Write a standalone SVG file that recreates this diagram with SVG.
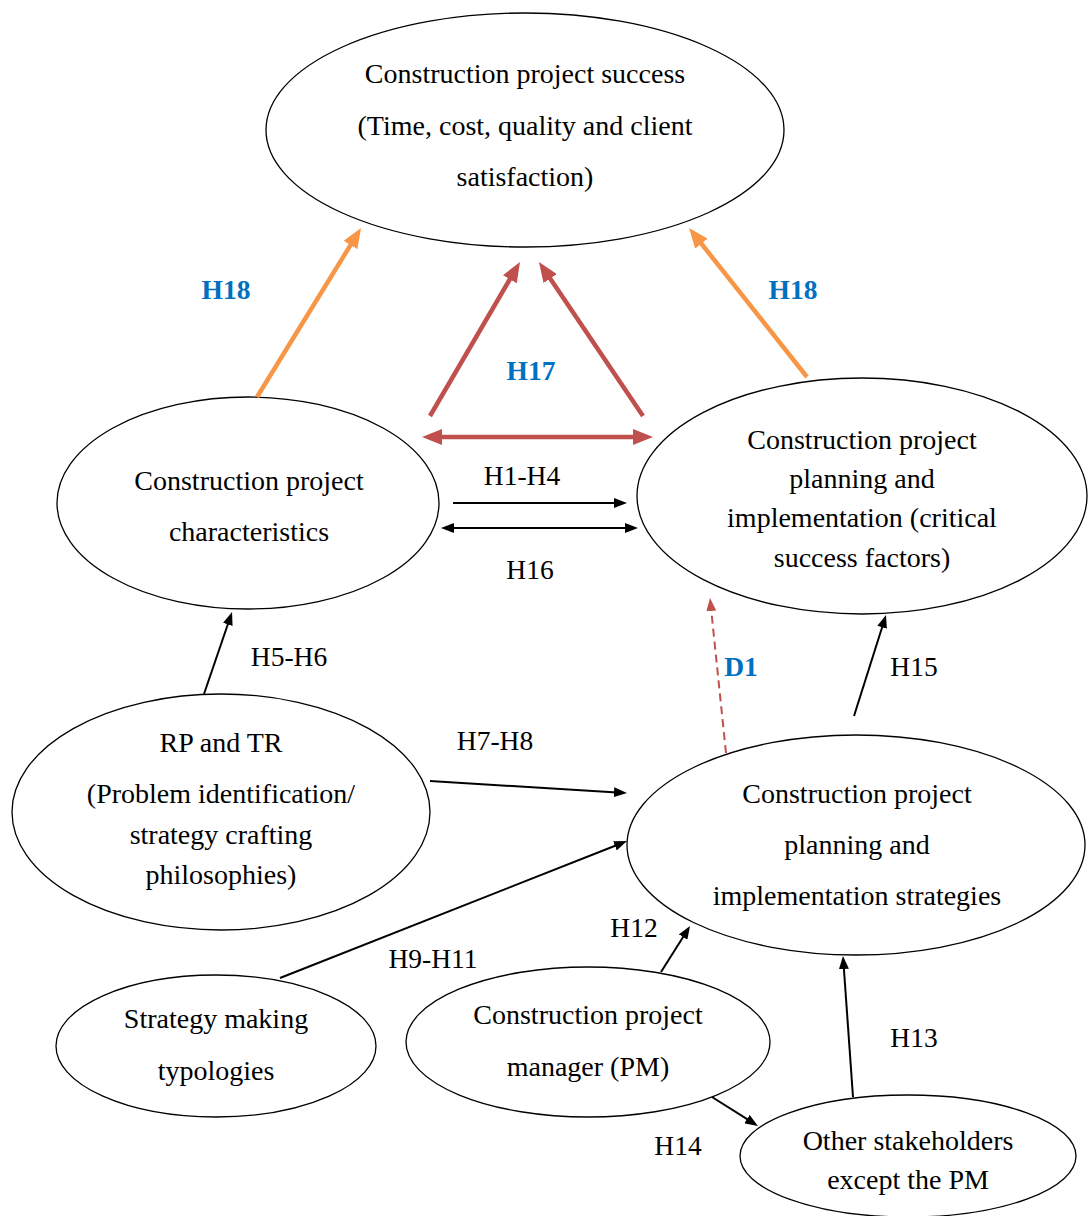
<svg xmlns="http://www.w3.org/2000/svg" width="1088" height="1216" viewBox="0 0 1088 1216">
  <style>
    .node ellipse { fill: #ffffff; stroke: #000000; stroke-width: 1.3; }
    .node text { font-family: "Liberation Serif", "Times New Roman", serif; font-size: 28px; fill: #000000; text-anchor: middle; dominant-baseline: central; }
    .lbl { font-family: "Liberation Serif", "Times New Roman", serif; font-size: 27.5px; fill: #000000; text-anchor: middle; dominant-baseline: central; }
    .blue { fill: #0070C0; font-weight: bold; }
    .blk { stroke: #000000; stroke-width: 2; fill: none; }
    .org { stroke: #F79646; stroke-width: 4.5; fill: none; }
    .red { stroke: #C0504D; stroke-width: 4.5; fill: none; }
    .dash { stroke: #C0504D; stroke-width: 2; fill: none; stroke-dasharray: 8 5; }
  </style>
  <defs>
    <marker id="ahBlack" markerUnits="userSpaceOnUse" markerWidth="13" markerHeight="10" refX="3" refY="5" orient="auto-start-reverse">
      <path d="M0,0 L13,5 L0,10 z" fill="#000000"/>
    </marker>
    <marker id="ahOrange" markerUnits="userSpaceOnUse" markerWidth="20" markerHeight="16" refX="6" refY="8" orient="auto-start-reverse">
      <path d="M0,0 L20,8 L0,16 z" fill="#F79646"/>
    </marker>
    <marker id="ahRed" markerUnits="userSpaceOnUse" markerWidth="20" markerHeight="16" refX="6" refY="8" orient="auto-start-reverse">
      <path d="M0,0 L20,8 L0,16 z" fill="#C0504D"/>
    </marker>
    <marker id="ahRedSmall" markerUnits="userSpaceOnUse" markerWidth="13" markerHeight="10" refX="3" refY="5" orient="auto-start-reverse">
      <path d="M0,0 L13,5 L0,10 z" fill="#C0504D"/>
    </marker>
  </defs>

  <rect width="1088" height="1216" fill="#ffffff"/>

  <!-- nodes -->
  <g id="success" class="node">
    <ellipse cx="525" cy="130" rx="259" ry="117"/>
    <text x="525" y="73">Construction project success</text>
    <text x="525" y="125">(Time, cost, quality and client</text>
    <text x="525" y="176">satisfaction)</text>
  </g>
  <g id="characteristics" class="node">
    <ellipse cx="248" cy="503" rx="191" ry="106"/>
    <text x="249" y="480">Construction project</text>
    <text x="249" y="531">characteristics</text>
  </g>
  <g id="csf" class="node">
    <ellipse cx="862" cy="496" rx="225" ry="118"/>
    <text x="862" y="439">Construction project</text>
    <text x="862" y="478">planning and</text>
    <text x="862" y="517">implementation (critical</text>
    <text x="862" y="557">success factors)</text>
  </g>
  <g id="rptr" class="node">
    <ellipse cx="221" cy="812" rx="209" ry="118"/>
    <text x="221" y="742">RP and TR</text>
    <text x="221" y="793">(Problem identification/</text>
    <text x="221" y="834">strategy crafting</text>
    <text x="221" y="874">philosophies)</text>
  </g>
  <g id="strategies" class="node">
    <ellipse cx="856" cy="845" rx="229" ry="110"/>
    <text x="857" y="793">Construction project</text>
    <text x="857" y="844">planning and</text>
    <text x="857" y="895">implementation strategies</text>
  </g>
  <g id="typologies" class="node">
    <ellipse cx="216" cy="1046" rx="160" ry="71"/>
    <text x="216" y="1018">Strategy making</text>
    <text x="216" y="1070">typologies</text>
  </g>
  <g id="pm" class="node">
    <ellipse cx="588" cy="1042" rx="182" ry="75"/>
    <text x="588" y="1014">Construction project</text>
    <text x="588" y="1066">manager (PM)</text>
  </g>
  <g id="stakeholders" class="node">
    <ellipse cx="908" cy="1156" rx="168" ry="61"/>
    <text x="908" y="1140">Other stakeholders</text>
    <text x="908" y="1179">except the PM</text>
  </g>

  <!-- connectors -->
  <g id="connectors">
    <path class="org" d="M257,397 L353.7,239.9" marker-end="url(#ahOrange)"/>
    <path class="org" d="M807,377 L697.7,239" marker-end="url(#ahOrange)"/>
    <path class="red" d="M430,416 L512.9,274.1" marker-end="url(#ahRed)"/>
    <path class="red" d="M643,416 L546.8,273.6" marker-end="url(#ahRed)"/>
    <path class="red" d="M436,437 L639,437" marker-start="url(#ahRed)" marker-end="url(#ahRed)"/>
    <path class="blk" d="M453,503 L617,503" marker-end="url(#ahBlack)"/>
    <path class="blk" d="M451,528 L628,528" marker-start="url(#ahBlack)" marker-end="url(#ahBlack)"/>
    <path class="dash" d="M726,753 L711,608" marker-end="url(#ahRedSmall)"/>
    <path class="blk" d="M854,716 L883,624.5" marker-end="url(#ahBlack)"/>
    <path class="blk" d="M204,694 L228.8,621.5" marker-end="url(#ahBlack)"/>
    <path class="blk" d="M430,781 L617,792.4" marker-end="url(#ahBlack)"/>
    <path class="blk" d="M280,978 L617.7,844.7" marker-end="url(#ahBlack)"/>
    <path class="blk" d="M661,972 L684.7,934.5" marker-end="url(#ahBlack)"/>
    <path class="blk" d="M853,1097 L843.7,966" marker-end="url(#ahBlack)"/>
    <path class="blk" d="M712,1097 L749.5,1120.7" marker-end="url(#ahBlack)"/>
  </g>

  <!-- relation labels -->
  <g id="labels">
    <text class="lbl blue" x="226" y="289">H18</text>
    <text class="lbl blue" x="793" y="289">H18</text>
    <text class="lbl blue" x="531" y="370">H17</text>
    <text class="lbl" x="522" y="475">H1-H4</text>
    <text class="lbl" x="530" y="569">H16</text>
    <text class="lbl" x="289" y="656">H5-H6</text>
    <text class="lbl blue" x="741" y="666">D1</text>
    <text class="lbl" x="914" y="666">H15</text>
    <text class="lbl" x="495" y="740">H7-H8</text>
    <text class="lbl" x="433" y="958">H9-H11</text>
    <text class="lbl" x="634" y="927">H12</text>
    <text class="lbl" x="914" y="1037">H13</text>
    <text class="lbl" x="678" y="1145">H14</text>
  </g>
</svg>
